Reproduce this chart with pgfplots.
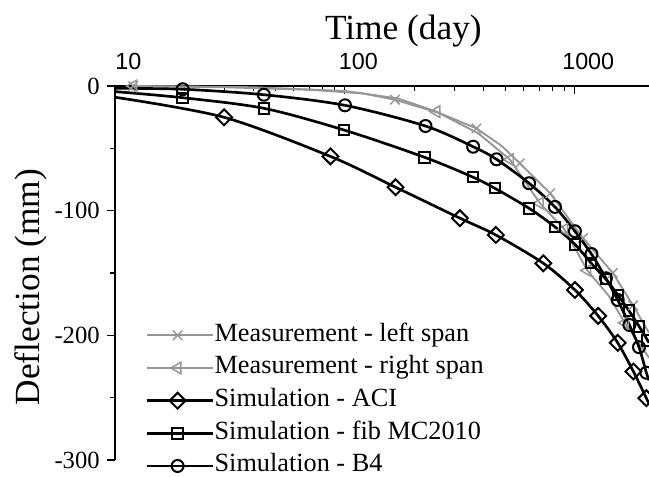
\documentclass[border=0pt]{standalone}
\usepackage{fontspec}
\setmainfont{Liberation Serif}
\newfontfamily\arialfont{Liberation Sans}
\usepackage{pgfplots}
\pgfplotsset{compat=1.18}
\definecolor{mgray}{RGB}{150,150,150}
\begin{document}
\begin{tikzpicture}
\begin{axis}[
 at={(86.25pt,12pt)}, anchor=south west,
 scale only axis, width=400.5pt, height=280.5pt,
 xmode=log, xmin=10, xmax=2100, ymin=-300, ymax=0,
 axis x line*=top, axis y line*=left,
 axis line style={line width=0.9pt},
 tick align=inside,
 major tick length=6pt, minor tick length=3.5pt,
 tick style={black, line width=0.8pt},
 major y tick style={xshift=-6pt},
 minor y tick style={xshift=-3.5pt},
 xtick={10,100,1000}, xticklabels={10,100,1000},
 xticklabel style={font=\arialfont\fontsize{17.5}{20}\selectfont, anchor=base, yshift=12.75pt, xshift=10pt},
 ytick={-300,-200,-100,0}, yticklabels={-300,-200,-100,0},
 minor ytick={-250,-150,-50},
 yticklabel style={font=\fontsize{18.5}{22}\selectfont, anchor=east, xshift=-11.25pt, inner sep=0pt},
 xlabel={Time (day)}, ylabel={Deflection (mm)},
 label style={font=\fontsize{26.5}{30}\selectfont},
 xlabel style={at={(axis description cs:0.54,1)}, anchor=base, yshift=35.25pt},
 ylabel style={at={(axis description cs:-0.158,0.462)}, anchor=center},
 clip=false,
 legend cell align=left,
 legend style={draw=none, fill=none, font=\fontsize{19.7}{24}\selectfont,
   at={(axis description cs:0.0562,0.368)}, anchor=north west, inner sep=0pt,
   row sep=5.5pt, nodes={inner sep=0pt, text height=14pt, text depth=5pt}},
 legend image code/.code={\path (0pt,0pt) -- (50pt,0pt);\draw[mark indices={2}] plot coordinates {(0pt,0pt)(23.25pt,0pt)(46.5pt,0pt)};},
]
\addplot[mgray, line width=1.4pt, mark=x, mark size=5pt, mark options={solid, line width=1.1pt}, mark indices={1,5,7,9,10,11,12,13}] coordinates {
(12,0) (30,-1) (70,-3) (120,-6) (165,-11) (260,-22) (373,-34) (480,-48) (576,-62) (780,-86) (1084,-122) (1462,-150) (1790,-176) (2100,-198)};
\addlegendentry{Measurement - left span}
\addplot[mgray, line width=1.4pt, mark=triangle, mark size=5pt, mark options={solid, rotate=90, fill=white, line width=1.1pt}, mark indices={1,5,7,8,9,10,12}] coordinates {
(12,0) (40,-1) (100,-4) (170,-10) (250,-20.6) (380,-38) (522,-59) (704,-94) (900,-115) (1133,-148) (1400,-168) (1650,-190) (2100,-218)};
\addlegendentry{Measurement - right span}
\addplot[black, line width=2pt, smooth, mark=square, mark size=4.2pt, mark options={solid, rotate=45, fill=white, line width=1.5pt}, mark indices={2,3,4,5,6,7,8,9,10,11,12}] coordinates {
(10,-9) (29.8,-25.1) (86.5,-56.5) (166,-81.2) (316,-106) (453,-119.5) (729,-142.2) (1000,-163.6) (1262,-184.4) (1535,-206) (1796,-229) (2045,-250.4) (2100,-255)};
\addlegendentry{Simulation - ACI}
\addplot[black, line width=2pt, smooth, mark=square, mark size=3.9pt, mark options={solid, fill=white, line width=1.5pt}, mark indices={2,3,4,5,6,7,8,9,10,11,12,13,14,15,16}] coordinates {
(10,-4.5) (19.7,-9.4) (44.4,-17.9) (99,-35.3) (222,-57.2) (361,-73.2) (448,-82) (632,-98.1) (819,-113) (1000,-127) (1175,-142) (1364,-155) (1535,-167.5) (1715,-180) (1905,-193) (2070,-204) (2100,-206)};
\addlegendentry{Simulation - fib MC2010}
\addplot[black, line width=2pt, smooth, mark=o, mark size=4.5pt, mark options={solid, fill=white, line width=1.5pt}, mark indices={2,3,4,5,6,7,8,9,10,11,12,13,14,15,16}] coordinates {
(10,-1.9) (19.7,-2.6) (44.4,-7) (100,-15.5) (224,-32.1) (361,-48.7) (456,-58.8) (632,-78) (819,-97) (1000,-116.5) (1180,-134.8) (1364,-154.2) (1535,-171.6) (1726,-191.7) (1900,-209.5) (2045,-230) (2100,-236)};
\addlegendentry{Simulation - B4}
\end{axis}
\pgfresetboundingbox
\path[use as bounding box] (0,0) rectangle (486.75pt,357pt);
\end{tikzpicture}
\end{document}
